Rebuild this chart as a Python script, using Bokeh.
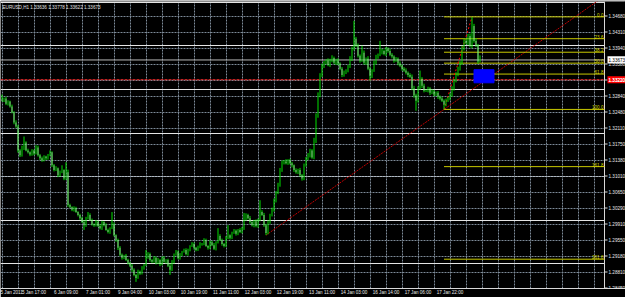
from bokeh.plotting import figure
from bokeh.models import Range1d, FixedTicker, Label, ColumnDataSource, Grid
from bokeh.core.properties import value
from bokeh.embed import file_html
from bokeh.resources import INLINE

# ---------------- data ----------------
symbol = "EURUSD,H1"
last_bar = [1.33636, 1.33778, 1.33622, 1.33673]  # open, high, low, close of the newest bar
first_open = 1.3277

closes = [
    1.3274, 1.3279, 1.3267, 1.3272, 1.3261, 1.3247, 1.3224, 1.3215, 1.3160, 1.3149,
    1.3165, 1.3178, 1.3160, 1.3156, 1.3151, 1.3160, 1.3153, 1.3167, 1.3149, 1.3142,
    1.3137, 1.3146, 1.3142, 1.3149, 1.3156, 1.3126, 1.3115, 1.3119, 1.3103, 1.3110,
    1.3115, 1.3096, 1.3110, 1.3035, 1.3030, 1.3024, 1.3028, 1.3019, 1.3012, 1.3005,
    1.2996, 1.2989, 1.3005, 1.3012, 1.3001, 1.2991, 1.2989, 1.2996, 1.2987, 1.2982,
    1.2996, 1.2989, 1.2978, 1.2973, 1.2982, 1.2991, 1.2966, 1.2955, 1.2937, 1.2921,
    1.2914, 1.2919, 1.2909, 1.2903, 1.2896, 1.2887, 1.2875, 1.2868, 1.2882, 1.2878,
    1.2891, 1.2898, 1.2914, 1.2923, 1.2909, 1.2905, 1.2914, 1.2903, 1.2909, 1.2900,
    1.2914, 1.2905, 1.2909, 1.2896, 1.2887, 1.2905, 1.2921, 1.2928, 1.2914, 1.2921,
    1.2928, 1.2932, 1.2923, 1.2932, 1.2941, 1.2946, 1.2937, 1.2932, 1.2939, 1.2946,
    1.2946, 1.2955, 1.2941, 1.2937, 1.2950, 1.2943, 1.2935, 1.2950, 1.2964, 1.2955,
    1.2946, 1.2941, 1.2960, 1.2966, 1.2960, 1.2971, 1.2976, 1.2969, 1.2978, 1.2973,
    1.2982, 1.3001, 1.3012, 1.3005, 1.2996, 1.2989, 1.2998, 1.2987, 1.3001, 1.3019,
    1.3012, 1.2989, 1.2971, 1.2996, 1.3012, 1.3024, 1.3046, 1.3064, 1.3080, 1.3115,
    1.3133, 1.3135, 1.3131, 1.3137, 1.3131, 1.3126, 1.3115, 1.3110, 1.3115, 1.3103,
    1.3096, 1.3126, 1.3142, 1.3149, 1.3160, 1.3144, 1.3183, 1.3240, 1.3286, 1.3331,
    1.3354, 1.3361, 1.3366, 1.3356, 1.3366, 1.3372, 1.3361, 1.3366, 1.3359, 1.3347,
    1.3333, 1.3338, 1.3343, 1.3352, 1.3370, 1.3393, 1.3416, 1.3400, 1.3377, 1.3366,
    1.3384, 1.3361, 1.3370, 1.3347, 1.3331, 1.3343, 1.3361, 1.3375, 1.3379, 1.3384,
    1.3388, 1.3381, 1.3393, 1.3388, 1.3379, 1.3375, 1.3366, 1.3370, 1.3359, 1.3354,
    1.3347, 1.3343, 1.3338, 1.3333, 1.3329, 1.3302, 1.3286, 1.3274, 1.3302, 1.3324,
    1.3308, 1.3297, 1.3297, 1.3302, 1.3292, 1.3295, 1.3288, 1.3292, 1.3283, 1.3279,
    1.3274, 1.3265, 1.3274, 1.3279, 1.3286, 1.3302, 1.3320, 1.3333, 1.3347, 1.3361,
    1.3393, 1.3411, 1.3406, 1.3422, 1.3400, 1.3445, 1.3411, 1.3400, 1.3364,
]

# upper / lower shadow of each bar beyond its body, in pips (read as bar thickness)
upper_wick_pips = [
    3, 2, 4, 3, 2, 4, 3, 5, 4, 3, 6, 2, 3, 4, 2, 3, 2, 3, 4, 3,
    4, 3, 2, 3, 4, 2, 3, 5, 2, 4, 3, 2, 3, 6, 3, 2, 4, 3, 2, 3,
    3, 4, 3, 2, 4, 3, 2, 5, 3, 4, 3, 2, 4, 3, 2, 3, 4, 2, 3, 4,
    3, 2, 4, 3, 2, 4, 3, 2, 5, 3, 4, 2, 3, 4, 3, 2, 4, 3, 5, 2,
    3, 4, 2, 3, 5, 4, 3, 2, 3, 4, 2, 3, 4, 3, 2, 4, 3, 2, 3, 4,
    2, 4, 3, 2, 4, 3, 5, 2, 3, 4, 3, 2, 4, 3, 2, 3, 4, 3, 2, 4,
    3, 2, 4, 3, 5, 2, 3, 4, 3, 2, 4, 5, 3, 4, 3, 5, 4, 3, 6, 5,
    4, 3, 5, 3, 4, 3, 2, 4, 3, 5, 3, 4, 3, 5, 4, 3, 6, 5, 7, 6,
    5, 4, 3, 5, 4, 6, 3, 4, 5, 3, 4, 5, 3, 4, 6, 5, 3, 4, 5, 3,
    4, 5, 3, 6, 4, 3, 5, 4, 3, 4, 5, 3, 4, 3, 5, 4, 3, 4, 3, 5,
    3, 4, 5, 3, 4, 5, 6, 4, 5, 3, 4, 5, 3, 4, 3, 5, 4, 3, 4, 3,
    4, 3, 5, 4, 6, 5, 4, 6, 5, 4, 7, 5, 6, 5, 6, 4, 5, 6, 4, 0,
]
lower_wick_pips = [
    2, 3, 3, 4, 3, 2, 4, 3, 5, 4, 3, 4, 2, 3, 4, 3, 4, 2, 3, 4,
    3, 2, 4, 3, 2, 4, 3, 2, 4, 3, 2, 4, 3, 4, 2, 3, 4, 2, 3, 4,
    2, 3, 4, 3, 2, 3, 4, 3, 2, 3, 4, 3, 2, 3, 4, 2, 3, 4, 5, 3,
    4, 3, 2, 4, 3, 5, 3, 4, 2, 3, 2, 4, 3, 2, 4, 3, 2, 4, 3, 5,
    3, 2, 4, 3, 2, 3, 4, 2, 3, 4, 3, 2, 3, 4, 3, 2, 4, 3, 2, 3,
    4, 3, 2, 4, 3, 2, 3, 4, 3, 2, 4, 3, 2, 3, 4, 3, 2, 4, 3, 2,
    3, 4, 2, 3, 4, 3, 5, 3, 4, 3, 2, 4, 3, 3, 4, 3, 4, 5, 4, 3,
    4, 5, 3, 4, 3, 5, 4, 3, 4, 3, 5, 4, 3, 4, 5, 3, 4, 6, 5, 4,
    3, 5, 4, 3, 5, 4, 3, 5, 4, 3, 5, 4, 3, 4, 3, 5, 4, 3, 4, 5,
    3, 4, 5, 3, 4, 5, 3, 4, 5, 3, 4, 3, 5, 4, 3, 4, 5, 3, 4, 3,
    4, 3, 4, 5, 3, 4, 5, 6, 4, 3, 5, 4, 3, 4, 5, 3, 4, 3, 5, 4,
    3, 5, 4, 3, 4, 3, 5, 4, 3, 4, 5, 4, 3, 5, 4, 6, 4, 3, 5, 0,
]

high_spikes = {0: 1.3288, 11: 1.3192, 17: 1.3172, 30: 1.3126, 32: 1.3133, 43: 1.3019,
               55: 1.3019, 72: 1.2932, 87: 1.2932, 108: 1.2982, 113: 1.2989, 121: 1.3017,
               129: 1.3046, 176: 1.3457, 180: 1.3400, 189: 1.3411, 209: 1.3343, 235: 1.3466}
low_spikes = {41: 1.2978, 53: 1.2971, 67: 1.2859, 84: 1.2875, 132: 1.2966, 184: 1.3320,
              207: 1.3251, 221: 1.3254}

time_labels = ["5 Jan 2011", "5 Jan 17:00", "6 Jan 09:00", "7 Jan 01:00", "9 Jan 04:00",
               "10 Jan 03:00", "10 Jan 19:00", "11 Jan 11:00", "12 Jan 03:00", "12 Jan 19:00",
               "13 Jan 11:00", "14 Jan 03:00", "16 Jan 14:00", "17 Jan 06:00", "17 Jan 22:00"]
bars_per_label = 16
bars_per_grid = 8

price_ticks = [1.34680, 1.34310, 1.33940, 1.33580, 1.33210, 1.32840, 1.32480, 1.32110,
               1.31750, 1.31380, 1.31010, 1.30650, 1.30290, 1.29910, 1.29550, 1.29180,
               1.28810, 1.28450]

fib_levels = [0.0, 23.6, 38.2, 50.0, 61.8, 100.0, 161.8, 261.8]
fib_low_bar, fib_low = 221, 1.3254
fib_high_bar, fib_high = 235, 1.3466

trend_bars = [132, 221]
trend_prices = [1.2966, 1.3254]

alert_price = 1.33220
zone_bars = [236, 246]
zone_prices = [1.3315, 1.3345]

PIP = 0.0001

# ---------------- derived OHLC ----------------
closes_all = closes + [last_bar[3]]
n = len(closes_all)
opens = [first_open] + closes_all[:-1]
opens[-1] = last_bar[0]
highs, lows = [], []
for i in range(n):
    hi = max(opens[i], closes_all[i]) + upper_wick_pips[i] * PIP
    lo = min(opens[i], closes_all[i]) - lower_wick_pips[i] * PIP
    hi = max(hi, high_spikes.get(i, hi))
    lo = min(lo, low_spikes.get(i, lo))
    highs.append(hi)
    lows.append(lo)
highs[-1] = last_bar[1]
lows[-1] = last_bar[2]
idx = list(range(n))

bear = [i for i in idx if closes_all[i] < opens[i]]
bear_src = ColumnDataSource(dict(x=bear, top=[opens[i] for i in bear], bottom=[closes_all[i] for i in bear]))
bar_src = ColumnDataSource(dict(x=idx, hi=highs, lo=lows))

# ---------------- layout of the price scale ----------------
FONT = "Liberation Sans"
FS = "4.6px"
SCALE_FG = "#e8e8e8"
BORDER = "#d8d8d8"
GRID = "#7d8a98"
FRAME_H = 287          # plot frame height in px (297 - top 1 - bottom 9)
GRID_PX = 16           # the terminal puts a price grid line every 16 px
nt = len(price_ticks)
grid_step = (price_ticks[0] - price_ticks[-1]) / (nt - 1)
px_per_price = GRID_PX / grid_step
y_top = price_ticks[0] + 14.5 / px_per_price
y_range = Range1d(y_top - FRAME_H / px_per_price, y_top)
grid_prices = [price_ticks[0] - k * grid_step for k in range(nt)]

x_range = Range1d(-0.75, 311.75)      # 2 px per bar, the last 20 px hold the price scale
chart_end = 301.25                    # right edge of the chart area (bars)
box_half = 3.6 / px_per_price         # half height of the price boxes on the scale

p = figure(width=625, height=297, x_range=x_range, y_range=y_range,
           output_backend="svg", toolbar_location=None, y_axis_location=None,
           min_border_left=0, min_border_top=1, min_border_right=0, min_border_bottom=9,
           background_fill_color="black", border_fill_color="black",
           outline_line_color="#8a8a8a")

# grid
p.xgrid.ticker = FixedTicker(ticks=list(range(0, int(chart_end) + 1, bars_per_grid)))
p.xgrid.grid_line_color = GRID
p.xgrid.grid_line_dash = "2 1"
ygrid = Grid(dimension=1, ticker=FixedTicker(ticks=grid_prices),
             grid_line_color=GRID, grid_line_dash="2 1", grid_line_width=1)
p.add_layout(ygrid)

# bottom time axis
label_bars = [k * bars_per_label for k in range(len(time_labels))]
xa = p.xaxis[0]
xa.ticker = FixedTicker(ticks=label_bars)
xa.major_label_overrides = {b: t for b, t in zip(label_bars, time_labels)}
xa.major_label_text_align = "left"
xa.major_tick_out = 0
xa.major_tick_in = 0
xa.minor_tick_out = 0
xa.minor_tick_in = 0
xa.major_label_standoff = 1
xa.axis_line_color = BORDER
xa.major_label_text_color = SCALE_FG
xa.major_label_text_font = FONT
xa.major_label_text_font_size = FS

# price scale on the right (black panel over the grid)
p.quad(left=[chart_end], right=[x_range.end], bottom=[y_range.start], top=[y_range.end],
       fill_color="black", line_color=None)
p.segment(x0=[chart_end], x1=[chart_end], y0=[y_range.start], y1=[y_range.end],
          line_color=BORDER, line_width=1)
p.scatter(x=[chart_end + 0.75] * nt, y=grid_prices, marker="dash", size=3,
          line_color=BORDER, line_width=1)
for t in price_ticks:
    p.add_layout(Label(x=chart_end, y=t, x_offset=4, text="%.5f" % t,
                       text_align="left", text_baseline="middle", text_color=SCALE_FG,
                       text_font=FONT, text_font_size=FS))

# horizontal lines: bid and alert
p.segment(x0=[x_range.start], x1=[chart_end], y0=[last_bar[3]], y1=[last_bar[3]],
          line_color="#b8b8b8", line_width=1)
p.segment(x0=[x_range.start], x1=[chart_end], y0=[alert_price], y1=[alert_price],
          line_color="#ff3030", line_width=1.2, line_dash="3 1")

# trend line (ray)
slope = (trend_prices[1] - trend_prices[0]) / (trend_bars[1] - trend_bars[0])
p.segment(x0=[trend_bars[0]], y0=[trend_prices[0]], x1=[chart_end],
          y1=[trend_prices[0] + slope * (chart_end - trend_bars[0])],
          line_color="#c00000", line_width=1, line_dash="2 1")

# fibonacci
fib_prices = [fib_high - (fib_high - fib_low) * lv / 100.0 for lv in fib_levels]
p.segment(x0=[fib_low_bar] * len(fib_levels), x1=[chart_end] * len(fib_levels),
          y0=fib_prices, y1=fib_prices, line_color="#c8c800", line_width=1)
p.segment(x0=[fib_low_bar], y0=[fib_low], x1=[fib_high_bar], y1=[fib_high],
          line_color="#ff0000", line_width=1, line_dash="2 2")
p.text(x=[chart_end] * len(fib_levels), y=fib_prices, text=["%.1f" % lv for lv in fib_levels],
       text_align="right", text_baseline="bottom", x_offset=-1,
       text_color="#d8d800", text_font=value(FONT), text_font_size=FS)

# rectangle zone
p.quad(left=[zone_bars[0]], right=[zone_bars[1]], bottom=[zone_prices[0]], top=[zone_prices[1]],
       fill_color="#0000ff", line_color="#0000ff")

# candles
p.segment(x0="x", x1="x", y0="lo", y1="hi", source=bar_src, line_color="#00e000", line_width=1)
p.vbar(x="x", top="top", bottom="bottom", width=0.5, source=bear_src,
       fill_color="white", fill_alpha=0.55, line_color=None)

# price boxes on the scale: bid (white) and alert (red)
box_prices = [last_bar[3], alert_price]
box_fill = ["white", "#ff0000"]
box_text = ["black", "white"]
p.quad(left=[chart_end + 1.5] * 2, right=[x_range.end] * 2,
       bottom=[b - box_half for b in box_prices], top=[b + box_half for b in box_prices],
       fill_color=box_fill, line_color=None)
for b, tc in zip(box_prices, box_text):
    p.add_layout(Label(x=chart_end, y=b, x_offset=4, text="%.5f" % b,
                       text_align="left", text_baseline="middle", text_color=tc,
                       text_font=FONT, text_font_size=FS))

# title text
p.add_layout(Label(x=x_range.start, y=y_range.end, x_offset=2, y_offset=-3,
                   text="%s  %.5f %.5f %.5f %.5f" % (symbol, *last_bar),
                   text_baseline="top", text_color="#e0e0e0",
                   text_font=FONT, text_font_size=FS))

open("out.html", "w").write(file_html(p, INLINE))
